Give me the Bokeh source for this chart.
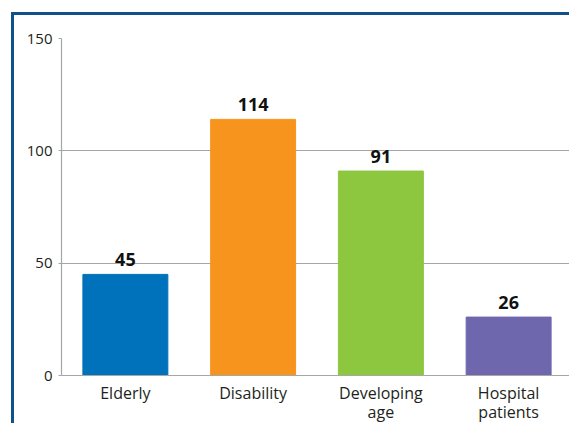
from bokeh.plotting import figure
from bokeh.models import ColumnDataSource, FixedTicker
from bokeh.core.properties import value
from bokeh.embed import file_html
from bokeh.resources import INLINE

categories = ["Elderly", "Disability", "Developing\nage", "Hospital\npatients"]
counts = [45, 114, 91, 26]
colors = ["#0071bb", "#f7941e", "#8dc63f", "#6e67ae"]
y_ticks = [0, 50, 100, 150]

FONT = "Open Sans"

src = ColumnDataSource(dict(cat=categories, val=counts, col=colors,
                            lab=[str(v) for v in counts]))

p = figure(x_range=categories, y_range=(0, 150), width=558, height=411,
           output_backend="svg", toolbar_location=None,
           min_border_left=47, min_border_right=0, min_border_top=23,
           min_border_bottom=50)
p.styles = {"border-top": "3px solid #12508a", "border-left": "3px solid #12508a",
            "margin-top": "12px", "margin-left": "11px"}
p.outline_line_color = None
p.background_fill_color = "white"

p.vbar(x="cat", top="val", width=0.665, color="col", source=src)
p.text(x="cat", y="val", text="lab", source=src, text_align="center",
       text_baseline="bottom", y_offset=-8, text_font=value(FONT),
       text_font_style="bold", text_font_size="18px", text_color="#111111")

p.xgrid.grid_line_color = None
p.ygrid.grid_line_color = "#a6a6a6"
p.ygrid.grid_line_width = 1
p.yaxis.ticker = FixedTicker(ticks=y_ticks)

for ax in (p.xaxis, p.yaxis):
    ax.axis_line_color = "#a6a6a6"
    ax.axis_line_width = 1.2
    ax.minor_tick_line_color = None
    ax.major_label_text_font = FONT
    ax.major_label_text_color = "#231f20"
    ax.major_label_text_line_height = 0.9
p.yaxis.major_label_text_font_size = "15px"
p.xaxis.major_label_text_font_size = "16px"
p.xaxis.major_tick_line_color = None
p.yaxis.major_tick_line_color = "#a6a6a6"
p.yaxis.major_tick_in = 0
p.yaxis.major_tick_out = 3
p.yaxis.major_label_standoff = 6
p.xaxis.major_label_standoff = 0

open("out.html", "w").write(file_html(p, INLINE))
